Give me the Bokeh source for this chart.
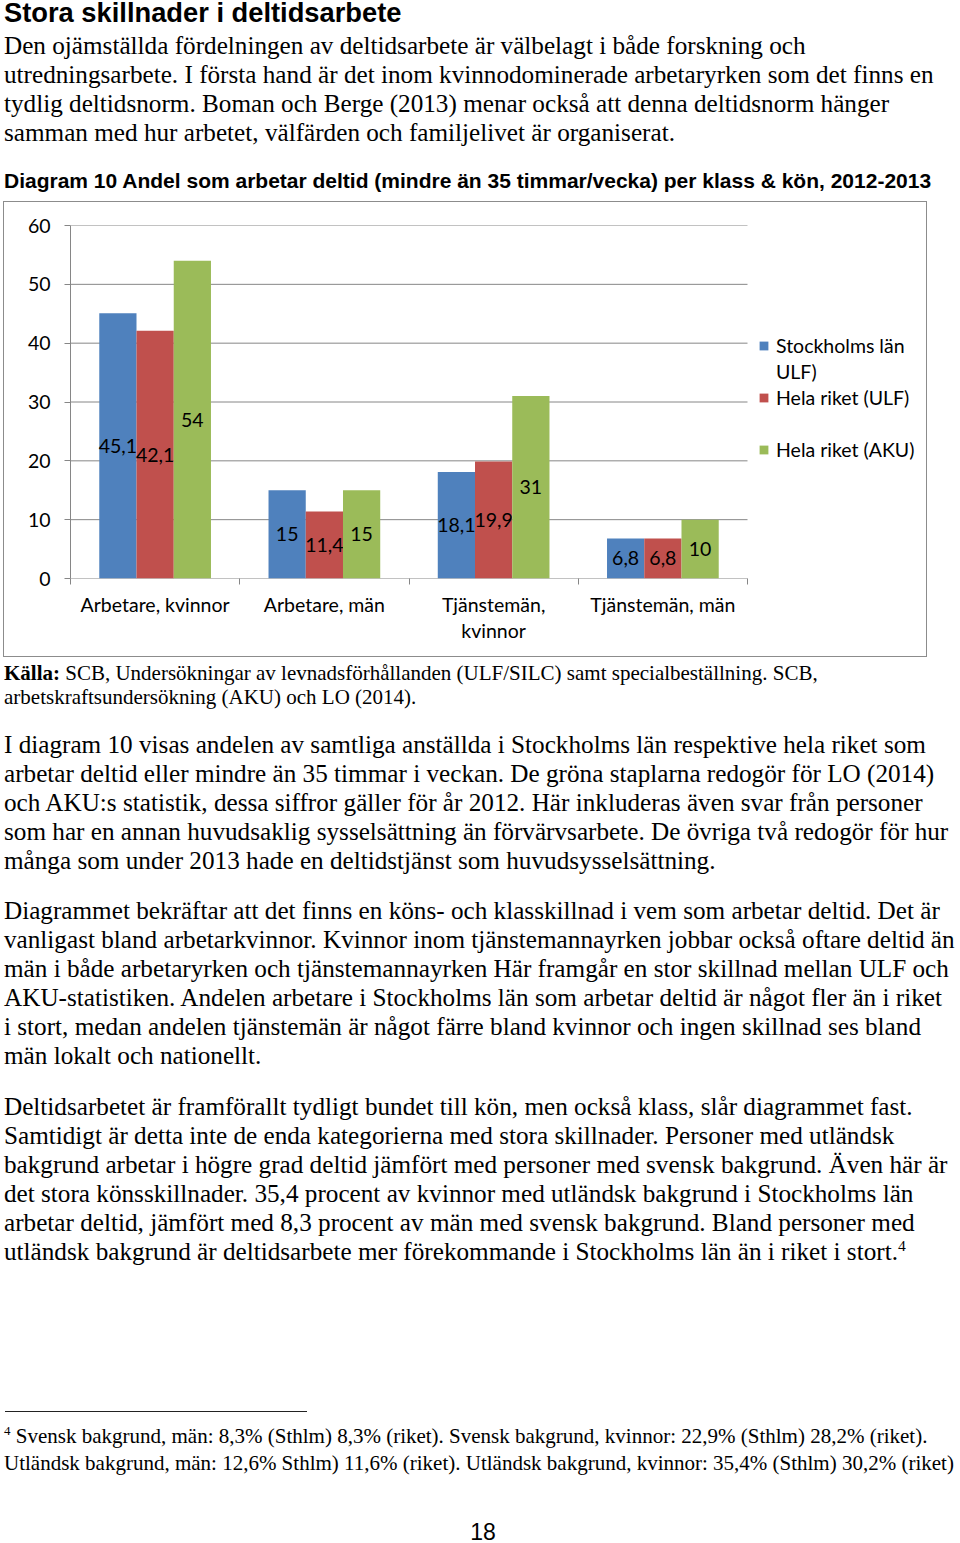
from bokeh.plotting import figure
from bokeh.models import (Range1d, FixedTicker, Legend, LegendItem, Div, ColumnDataSource)
from bokeh.layouts import column
from bokeh.embed import file_html
from bokeh.resources import INLINE
from bokeh.core.properties import value

# ---------------- data ----------------
categories = ["Arbetare, kvinnor", "Arbetare, män", "Tjänstemän,\nkvinnor", "Tjänstemän, män"]
stockholm_ulf = [45.1, 15, 18.1, 6.8]
riket_ulf = [42.1, 11.4, 19.9, 6.8]
riket_aku = [54, 15, 31, 10]
# legend text as wrapped in the original (first name wraps onto a second line)
legend_lines = ["Stockholms län", "ULF)", "Hela riket (ULF)", " ", "Hela riket (AKU)"]
legend_series = [0, None, 1, None, 2]
y_ticks = [0, 10, 20, 30, 40, 50, 60]
colors = ["#4F81BD", "#C0504D", "#9BBB59"]

heading = "Stora skillnader i deltidsarbete"
intro_lines = [
    "Den ojämställda fördelningen av deltidsarbete är välbelagt i både forskning och",
    "utredningsarbete. I första hand är det inom kvinnodominerade arbetaryrken som det finns en",
    "tydlig deltidsnorm. Boman och Berge (2013) menar också att denna deltidsnorm hänger",
    "samman med hur arbetet, välfärden och familjelivet är organiserat.",
]
chart_title = "Diagram 10 Andel som arbetar deltid (mindre än 35 timmar/vecka) per klass &amp; kön, 2012-2013"
source_lines = [
    "<b>Källa:</b> SCB, Undersökningar av levnadsförhållanden (ULF/SILC) samt specialbeställning. SCB,",
    "arbetskraftsundersökning (AKU) och LO (2014).",
]
para1 = [
    "I diagram 10 visas andelen av samtliga anställda i Stockholms län respektive hela riket som",
    "arbetar deltid eller mindre än 35 timmar i veckan. De gröna staplarna redogör för LO (2014)",
    "och AKU:s statistik, dessa siffror gäller för år 2012. Här inkluderas även svar från personer",
    "som har en annan huvudsaklig sysselsättning än förvärvsarbete. De övriga två redogör för hur",
    "många som under 2013 hade en deltidstjänst som huvudsysselsättning.",
]
para2 = [
    "Diagrammet bekräftar att det finns en köns- och klasskillnad i vem som arbetar deltid. Det är",
    "vanligast bland arbetarkvinnor. Kvinnor inom tjänstemannayrken jobbar också oftare deltid än",
    "män i både arbetaryrken och tjänstemannayrken Här framgår en stor skillnad mellan ULF och",
    "AKU-statistiken. Andelen arbetare i Stockholms län som arbetar deltid är något fler än i riket",
    "i stort, medan andelen tjänstemän är något färre bland kvinnor och ingen skillnad ses bland",
    "män lokalt och nationellt.",
]
SUP = '<span style="font-size:0.62em;position:relative;top:-0.6em;">4</span>'
para3 = [
    "Deltidsarbetet är framförallt tydligt bundet till kön, men också klass, slår diagrammet fast.",
    "Samtidigt är detta inte de enda kategorierna med stora skillnader. Personer med utländsk",
    "bakgrund arbetar i högre grad deltid jämfört med personer med svensk bakgrund. Även här är",
    "det stora könsskillnader. 35,4 procent av kvinnor med utländsk bakgrund i Stockholms län",
    "arbetar deltid, jämfört med 8,3 procent av män med svensk bakgrund. Bland personer med",
    "utländsk bakgrund är deltidsarbete mer förekommande i Stockholms län än i riket i stort." + SUP,
]
footnote_lines = [
    SUP + " Svensk bakgrund, män: 8,3% (Sthlm) 8,3% (riket). Svensk bakgrund, kvinnor: 22,9% (Sthlm) 28,2% (riket).",
    "Utländsk bakgrund, män: 12,6% Sthlm) 11,6% (riket). Utländsk bakgrund, kvinnor: 35,4% (Sthlm) 30,2% (riket)",
]
page_number = "18"

# ---------------- styling helpers ----------------
SERIF = "'Liberation Serif', 'Times New Roman', serif"
SANS = "'Liberation Sans', Arial, sans-serif"
CHART_FONT = "Lato"
CF_SIZE = "19.5px"


def block(lines, left, top, family, size, lh, weight="normal", extra=""):
    return (f'<div style="position:absolute;left:{left}px;top:{top}px;font-family:{family};'
            f'font-size:{size}px;line-height:{lh}px;font-weight:{weight};white-space:nowrap;'
            f'color:#000;{extra}">' + "<br>".join(lines) + "</div>")


# ---------------- top text ----------------
TOP_H = 201
top_html = (f'<div style="position:relative;width:944px;height:{TOP_H}px;">'
            + block([heading], 4, 1, SANS, 27.3, 24, "bold")
            + block(intro_lines, 4, 31.4, SERIF, 25.2, 29)
            + block([chart_title], 4, 169.3, SANS, 21, 24, "bold")
            + '</div>')
top_div = Div(text=top_html, width=944, height=TOP_H, margin=0)

# ---------------- chart ----------------
FIG_W, FIG_H = 927, 456
BORDER_L, BORDER_R = 70, 7
PLOT_W = 677                      # width occupied by the four categories
FRAME_W = FIG_W - BORDER_L - BORDER_R
n_cat = len(categories)
p = figure(width=FIG_W, height=FIG_H,
           x_range=Range1d(0, n_cat * FRAME_W / PLOT_W), y_range=Range1d(0, 60),
           output_backend="svg", toolbar_location=None,
           min_border_left=BORDER_L, min_border_right=BORDER_R,
           min_border_top=24, min_border_bottom=79, margin=0)
p.outline_line_color = None

GRAY = "#868686"
# horizontal gridlines spanning only the category area (value 0 doubles as the x axis line)
p.segment(x0=[0] * len(y_ticks), x1=[n_cat] * len(y_ticks), y0=y_ticks, y1=y_ticks,
          line_color=GRAY, line_width=1)

W = 0.22
series = [stockholm_ulf, riket_ulf, riket_aku]
renderers = []
for k, vals in enumerate(series):
    xs = [i + 0.5 + (k - 1) * W for i in range(n_cat)]
    src = ColumnDataSource(dict(
        x=xs, top=vals, mid=[v / 2 for v in vals],
        lab=[f"{v:g}".replace(".", ",") for v in vals]))
    r = p.vbar(x="x", top="top", bottom=0, width=W, fill_color=colors[k],
               line_color=None, source=src)
    renderers.append(r)
    p.text(x="x", y="mid", text="lab", source=src, text_align="center",
           text_baseline="middle", text_font=value(CHART_FONT),
           text_font_size=value(CF_SIZE), text_color="#000000")

# empty, invisible renderer used for legend rows without a colour key
blank = p.vbar(x=[], top=[], bottom=0, width=W, fill_alpha=0, line_alpha=0)

# y axis
p.yaxis.ticker = FixedTicker(ticks=y_ticks)
p.yaxis.major_tick_out = 6
p.yaxis.major_tick_in = 0
p.yaxis.minor_tick_out = 0
p.yaxis.minor_tick_in = 0
p.yaxis.axis_line_color = GRAY
p.yaxis.major_tick_line_color = GRAY
p.yaxis.major_label_standoff = 14
p.yaxis.major_label_text_font = CHART_FONT
p.yaxis.major_label_text_font_size = CF_SIZE
p.yaxis.major_label_text_color = "#000000"
# x axis: labels at category centres, ticks at category boundaries
p.xaxis.ticker = FixedTicker(ticks=[i + 0.5 for i in range(n_cat)],
                             minor_ticks=list(range(n_cat + 1)))
p.xaxis.major_label_overrides = {i + 0.5: c for i, c in enumerate(categories)}
p.xaxis.major_tick_out = 0
p.xaxis.major_tick_in = 0
p.xaxis.minor_tick_out = 6
p.xaxis.minor_tick_in = 0
p.xaxis.minor_tick_line_color = GRAY
p.xaxis.axis_line_color = None
p.xaxis.major_label_standoff = 8
p.xaxis.major_label_text_font = CHART_FONT
p.xaxis.major_label_text_font_size = CF_SIZE
p.xaxis.major_label_text_color = "#000000"
p.xaxis.major_label_text_line_height = 1.15
p.grid.visible = False

items = []
for txt, s in zip(legend_lines, legend_series):
    rr = renderers[s] if s is not None else blank
    items.append(LegendItem(label=txt, renderers=[rr]))
legend = Legend(items=items, location=(688, 116), orientation="vertical", padding=0, margin=0,
                spacing=0, label_height=26, glyph_width=11, glyph_height=11,
                label_standoff=7, border_line_color=None, background_fill_alpha=0,
                label_text_font=CHART_FONT, label_text_font_size=CF_SIZE,
                label_text_color="#000000")
p.add_layout(legend)

# ---------------- bottom text ----------------
BOT_H = 1543 - TOP_H - FIG_H
bottom_html = (f'<div style="position:relative;width:944px;height:{BOT_H}px;">'
               # frame around the chart area (drawn over the figure above)
               + f'<div style="position:absolute;left:3px;top:-{FIG_H}px;width:924px;height:{FIG_H}px;'
                 'box-sizing:border-box;border:1.5px solid #8c8c8c;z-index:10;pointer-events:none;"></div>'
               + block(source_lines, 4, 3.9, SERIF, 21, 24)
               + block(para1, 4, 73.4, SERIF, 25.2, 29)
               + block(para2, 4, 239.4, SERIF, 25.2, 29)
               + block(para3, 4, 435.4, SERIF, 25.2, 29)
               + '<div style="position:absolute;left:5px;top:754px;width:302px;height:0;border-top:1.5px solid #222;"></div>'
               + block(footnote_lines, 4, 766.9, SERIF, 21, 24)
               + block([page_number], 469, 865.3, SANS, 23, 20, extra="width:28px;text-align:center;")
               + '</div>')
bottom_div = Div(text=bottom_html, width=944, height=BOT_H, margin=0)

layout = column(top_div, p, bottom_div, spacing=0)
open("out.html", "w").write(file_html(layout, INLINE))
